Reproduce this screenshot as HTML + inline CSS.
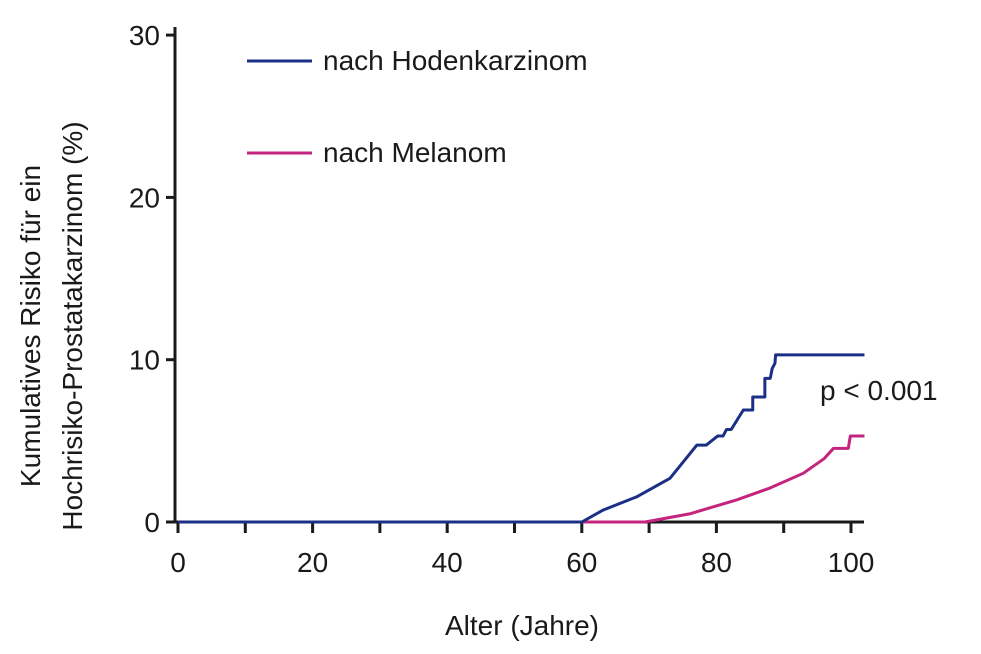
<!DOCTYPE html>
<html><head><meta charset="utf-8"><style>
body{margin:0;background:#fff}
svg text{font-family:"Liberation Sans",sans-serif;fill:#1a1a1a}
</style></head><body>
<svg width="981" height="649" viewBox="0 0 981 649">
<g id="axes"></g><g id="series"></g>
<text x="820" y="400" font-size="28">p &lt; 0.001</text>
<text x="522" y="635" font-size="28" text-anchor="middle">Alter (Jahre)</text>
<text transform="translate(40,326) rotate(-90)" font-size="28" text-anchor="middle">Kumulatives Risiko für ein</text>
<text transform="translate(82,326) rotate(-90)" font-size="28" text-anchor="middle">Hochrisiko-Prostatakarzinom (%)</text>
<line x1="247" y1="61" x2="312" y2="61" stroke="#1b2f86" stroke-width="3"/>
<text x="323" y="70" font-size="28">nach Hodenkarzinom</text>
<line x1="247" y1="153" x2="312" y2="153" stroke="#c4247e" stroke-width="3"/>
<text x="323" y="162" font-size="28">nach Melanom</text>
</svg>
<script>
const xTicks=[0,20,40,60,80,100];
const xMinor=[10,30,50,70,90];
const yTicks=[0,10,20,30];
const hodenAge=[0,60,63.2,68.2,73.1,77.1,78.5,80.2,81,81.5,82.2,84,85.4,85.4,87.2,87.2,88,88.3,88.7,88.8,102];
const hodenRisk=[0,0,0.74,1.56,2.69,4.74,4.74,5.3,5.3,5.7,5.7,6.9,6.9,7.7,7.7,8.85,8.85,9.47,9.78,10.3,10.3];
const melAge=[0,69.4,76,83,88,92.9,96,97.4,99.6,99.9,100.3,102];
const melRisk=[0,0,0.5,1.36,2.1,3.0,3.9,4.54,4.54,5.3,5.3,5.3];
const NS='http://www.w3.org/2000/svg';
const X=v=>178+v*6.73, Y=v=>522-v*16.23;
const ax=document.getElementById('axes'), se=document.getElementById('series');
function mk(p,tag,a){const e=document.createElementNS(NS,tag);for(const k in a)e.setAttribute(k,a[k]);p.appendChild(e);return e;}
let l=mk(ax,'line',{x1:175,y1:27,x2:175,y2:523,stroke:'#1a1a1a','stroke-width':3});


l=mk(ax,'line',{x1:174,y1:522,x2:864,y2:522,stroke:'#1a1a1a','stroke-width':3});


yTicks.forEach(v=>{
 const t=mk(ax,'line',{x1:166,y1:Y(v),x2:175,y2:Y(v),stroke:'#1a1a1a','stroke-width':3});
 
 
 const tx=mk(ax,'text',{x:160,y:Y(v)+10,'font-size':28,'text-anchor':'end'});tx.textContent=v;
 
 
});
xTicks.concat(xMinor).forEach(v=>{
 const t=mk(ax,'line',{x1:X(v),y1:522,x2:X(v),y2:533,stroke:'#1a1a1a','stroke-width':3});
 
 
});
xTicks.forEach(v=>{
 const tx=mk(ax,'text',{x:X(v),y:572,'font-size':28,'text-anchor':'middle'});tx.textContent=v;
 
 
});
function line(ages,risks,col,name){
 const p=mk(se,'polyline',{points:ages.map((a,i)=>X(a)+','+Y(risks[i])).join(' '),fill:'none',stroke:col,'stroke-width':3,'stroke-linejoin':'round'});
 
 
}
line(melAge,melRisk,'#c4247e','series-melanom');
line(hodenAge,hodenRisk,'#1b2f86','series-hodenkarzinom');
</script>
</body></html>
